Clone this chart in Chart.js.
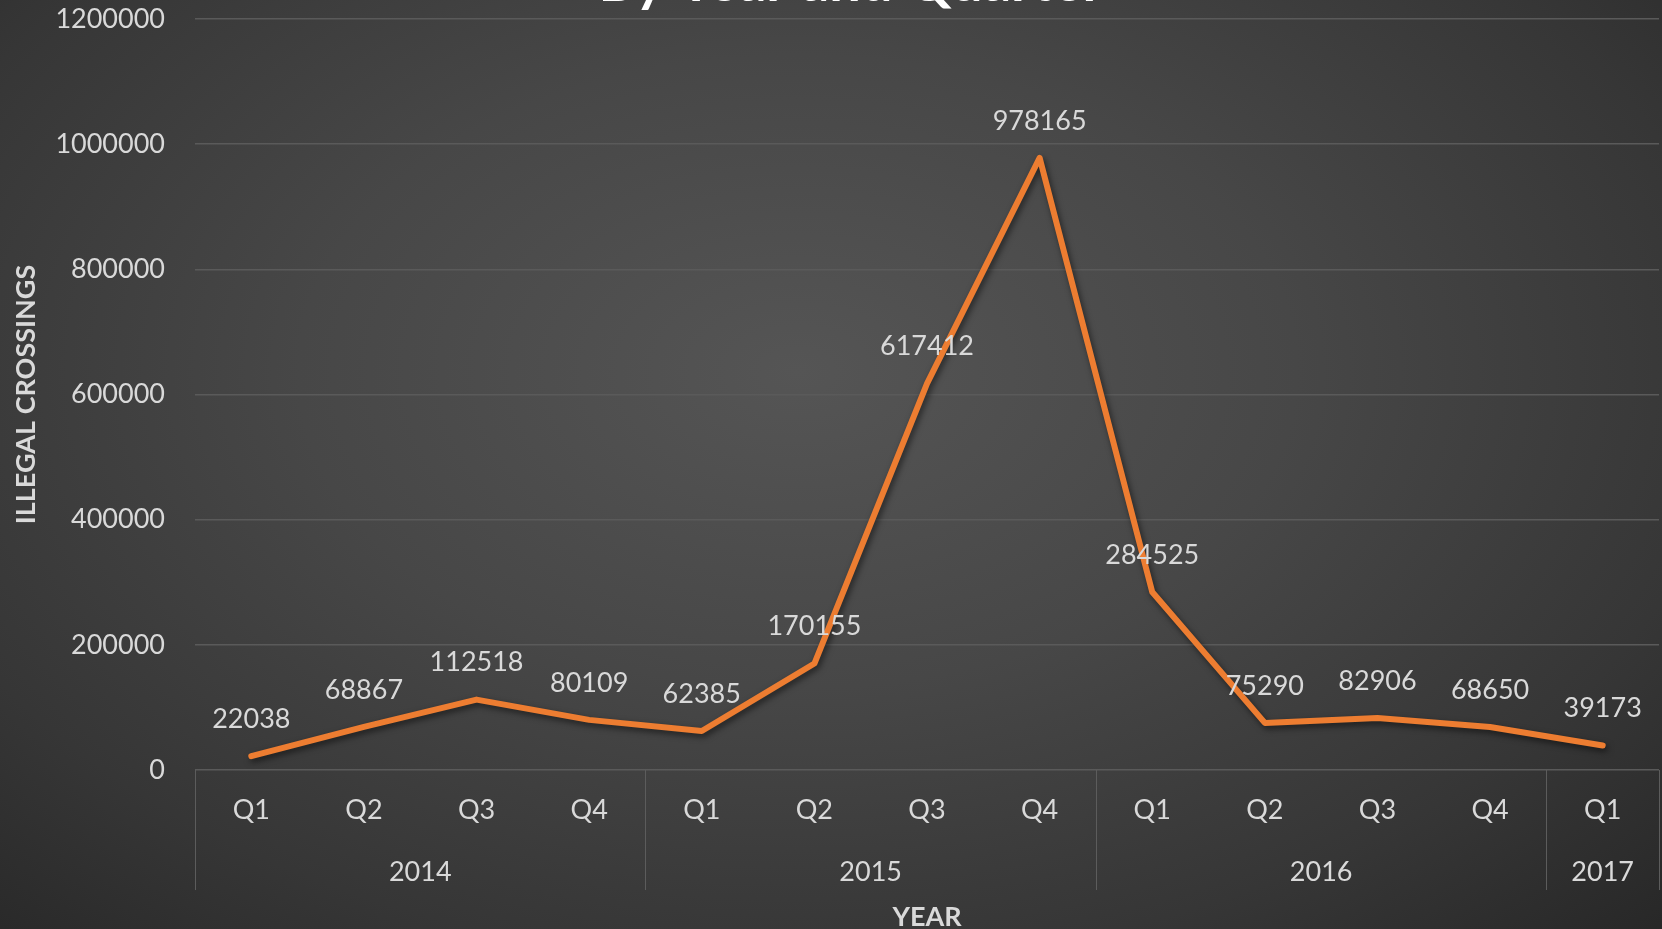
<!DOCTYPE html>
<html>
<head>
<meta charset="utf-8">
<script src="https://cdn.jsdelivr.net/npm/chart.js@4.4.1/dist/chart.umd.min.js"></script>
<style>
  html, body { margin: 0; padding: 0; }
  body {
    width: 1662px; height: 929px; overflow: hidden;
    background: radial-gradient(ellipse 75% 85% at 48% 40%, #555555 0%, #474747 40%, #363636 75%, #272727 100%);
  }
  #wrap { position: relative; width: 1662px; height: 929px; }
</style>
</head>
<body>
<div id="wrap"><canvas id="c" width="1662" height="929"></canvas></div>
<script>
const quarters = ["Q1","Q2","Q3","Q4","Q1","Q2","Q3","Q4","Q1","Q2","Q3","Q4","Q1"];
const yearLabels = ["2014","2015","2016","2017"];
const yearSpans = [4, 4, 4, 1];
const crossings = [22038, 68867, 112518, 80109, 62385, 170155, 617412, 978165, 284525, 75290, 82906, 68650, 39173];
const yTicks = [0, 200000, 400000, 600000, 800000, 1000000, 1200000];
const titleText = "By Year and Quarter";
const xTitle = "YEAR";
const yTitle = "ILLEGAL CROSSINGS";

const FONT = "Lato, 'Open Sans', sans-serif";
const TXT = "#d9d9d9";

const overlay = {
  id: 'overlay',
  beforeDatasetsDraw(chart) {
    const ctx = chart.ctx;
    ctx.save();
    ctx.shadowColor = 'rgba(0,0,0,0.55)';
    ctx.shadowBlur = 6;
    ctx.shadowOffsetX = 2;
    ctx.shadowOffsetY = 3;
  },
  afterDatasetsDraw(chart) {
    chart.ctx.restore();
    const ctx = chart.ctx;
    const meta = chart.getDatasetMeta(0);
    ctx.save();
    ctx.fillStyle = TXT;
    ctx.font = "27px " + FONT;
    ctx.textAlign = 'center';
    ctx.textBaseline = 'middle';
    meta.data.forEach((pt, i) => {
      ctx.fillText(String(chart.data.datasets[0].data[i]), pt.x, pt.y - 37);
    });
    ctx.restore();
  },
  afterDraw(chart) {
    const ctx = chart.ctx;
    const xs = chart.scales.x;
    const area = chart.chartArea;
    const w = xs.getPixelForValue(1) - xs.getPixelForValue(0);
    ctx.save();
    // separators
    ctx.strokeStyle = '#5c5c5c';
    ctx.lineWidth = 1;
    let idx = 0;
    const bounds = [0];
    yearSpans.forEach(s => { idx += s; bounds.push(idx); });
    bounds.forEach(b => {
      const x = Math.round(xs.getPixelForValue(b) - w / 2) + 0.5;
      ctx.beginPath();
      ctx.moveTo(x, area.bottom);
      ctx.lineTo(x, 890);
      ctx.stroke();
    });
    // year labels
    ctx.fillStyle = TXT;
    ctx.font = "27px " + FONT;
    ctx.textAlign = 'center';
    ctx.textBaseline = 'middle';
    let start = 0;
    yearLabels.forEach((y, i) => {
      const end = start + yearSpans[i] - 1;
      const cx = (xs.getPixelForValue(start) + xs.getPixelForValue(end)) / 2;
      ctx.fillText(y, cx, 872);
      start += yearSpans[i];
    });
    // axis titles
    ctx.font = "bold 27px " + FONT;
    ctx.fillText(xTitle, (area.left + area.right) / 2, 917);
    ctx.save();
    ctx.translate(26, (area.top + area.bottom) / 2);
    ctx.rotate(-Math.PI / 2);
    ctx.fillText(yTitle, 0, 0);
    ctx.restore();
    // chart title (mostly cut off at top)
    ctx.fillStyle = '#ffffff';
    ctx.font = "bold 56px " + FONT;
    ctx.textBaseline = 'alphabetic';
    ctx.fillText(titleText, 851, 1);
    ctx.restore();
  }
};

new Chart(document.getElementById('c'), {
  type: 'line',
  data: {
    labels: quarters,
    datasets: [{
      data: crossings,
      borderColor: '#ed7d31',
      borderWidth: 6,
      borderCapStyle: 'round',
      borderJoinStyle: 'round',
      pointRadius: 0,
      tension: 0,
      fill: false
    }]
  },
  options: {
    responsive: false,
    animation: false,
    layout: { padding: { top: 19, right: 3, left: 0, bottom: 0 } },
    plugins: { legend: { display: false }, tooltip: { enabled: false } },
    scales: {
      x: {
        offset: true,
        grid: { display: false, drawTicks: false, offset: true },
        border: { display: false },
        ticks: { color: TXT, font: { family: FONT, size: 27 }, padding: 24, maxRotation: 0, autoSkip: false },
        afterFit(s) { s.height = 159; s.paddingLeft = 0; s.paddingRight = 0; }
      },
      y: {
        min: 0, max: 1200000,
        afterBuildTicks(s) { s.ticks = yTicks.map(v => ({ value: v })); },
        grid: { color: '#5a5a5a', lineWidth: 1.5, drawTicks: false },
        border: { display: false },
        ticks: { color: TXT, font: { family: FONT, size: 27 }, padding: 30, callback: v => String(v) },
        afterFit(s) { s.width = 195; s.paddingTop = 0; s.paddingBottom = 0; }
      }
    }
  },
  plugins: [overlay]
});
</script>
</body>
</html>
